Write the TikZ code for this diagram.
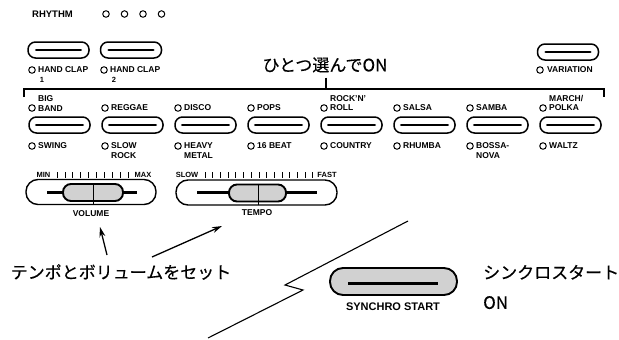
\documentclass[tikz,border=0pt]{standalone}
\usepackage{fontspec}
\setmainfont{Liberation Sans}
\newfontfamily\jp[FakeBold=0.4]{Noto Sans CJK JP}
\usetikzlibrary{arrows.meta}
\begin{document}
\begin{tikzpicture}[x=1pt,y=-1pt,
  lbl/.style={font=\bfseries\fontsize{8.5}{9.2}\selectfont, inner sep=0pt, align=left},
  small/.style={font=\bfseries\fontsize{7.5}{8}\selectfont, inner sep=0pt},
  jptext/.style={font=\jp\fontsize{17}{30}\selectfont, inner sep=0pt, align=left},
  led/.style={circle, draw, line width=1pt, minimum size=6.5pt, inner sep=0pt},
  btn/.style={draw, line width=1.5pt, rounded corners=7.5pt, minimum width=61pt, minimum height=16pt, inner sep=0pt},
  bar/.style={line width=2.8pt, line cap=round},
  slider/.style={draw, line width=1.4pt, rounded corners=12pt, minimum height=25pt, inner sep=0pt},
  knob/.style={draw, line width=1.9pt, fill=black!18, rounded corners=8pt, minimum height=17pt, inner sep=0pt},
  track/.style={line width=3pt},
  tick/.style={line width=0.8pt},
  arr/.style={line width=1.3pt, -{Stealth[length=10pt,width=6pt]}},
  thin/.style={line width=1.1pt}
]
\useasboundingbox (0,0) rectangle (619,340);

% RHYTHM row
\node[font=\bfseries\fontsize{9.5}{10}\selectfont, inner sep=0pt] (rhythm) at (52.5,14) {RHYTHM};
\foreach \k in {0,...,3} \node[led] (r\k) at (106+18.5*\k,14) {};

% Hand clap + variation
\node[btn] (hc1) at (58.5,50) {};
\draw[bar] ([xshift=9pt]hc1.west) -- ([xshift=-9pt]hc1.east);
\node[btn] (hc2) at (131,50) {};
\draw[bar] ([xshift=9pt]hc2.west) -- ([xshift=-9pt]hc2.east);
\node[btn] (var) at (568,52) {};
\draw[bar] ([xshift=9pt]var.west) -- ([xshift=-9pt]var.east);
\node[led] (lhc1) at (32,70) {};
\node[lbl, anchor=west] (thc1) at (38,70) {HAND CLAP};
\node[small] (n1) at (42,80) {1};
\node[led] (lhc2) at (104,70) {};
\node[lbl, anchor=west] (thc2) at (110,70) {HAND CLAP};
\node[small] (n2) at (114,80) {2};
\node[led] (lvar) at (540,70) {};
\node[lbl, anchor=west] (tvar) at (547,70) {VARIATION};

% Select one
\node[jptext] (sel) at (325,65) {ひとつ選んでON};
\coordinate (bl) at (24,97);
\coordinate (br) at (604,97);
\coordinate (brk) at (326,89);
\draw[thin] (bl) -- (24,89) -- (604,89) -- (br);
\draw[thin] ([yshift=-5pt]sel.south -| brk) -- (brk);

% Style buttons
\foreach \i/\ta/\tb in {0/{BIG\\BAND}/SWING, 1/REGGAE/{SLOW\\ROCK}, 2/DISCO/{HEAVY\\METAL}, 3/POPS/16 BEAT, 4/{ROCK'N'\\ROLL}/COUNTRY, 5/SALSA/RHUMBA, 6/SAMBA/{BOSSA-\\NOVA}, 7/{MARCH/\\POLKA}/WALTZ}{
  \pgfmathsetmacro\bx{59.5+73*\i}
  \node[btn] (s\i) at (\bx,125) {};
  \draw[bar] ([xshift=8pt]s\i.west) -- ([xshift=-8pt]s\i.east);
  \node[led] (tl\i) at (\bx-27.5,108) {};
  \node[lbl, anchor=south west] (tt\i) at (\bx-21.5,111.2) {\ta};
  \node[led] (bl\i) at (\bx-27.5,146) {};
  \node[lbl, anchor=north west] (bt\i) at (\bx-21.5,142.8) {\tb};
}

% Volume slider
\node[small] (min) at (43.5,175) {MIN};
\node[small] (max) at (143,175) {MAX};
\foreach \k in {0,...,9} \draw[tick] (57+7.9*\k,172) -- ++(0,6);
\node[slider, minimum width=130pt] (vol) at (91,192) {};
\draw[track] (47,192) -- (137,192);
\node[knob, minimum width=60pt] (vknob) at (93,192.5) {};
\draw[line width=1pt] (93,183) -- (93,205);
\node[lbl] (volt) at (91,214) {VOLUME};

% Tempo slider
\node[small] (slow) at (187,175) {SLOW};
\node[small] (fast) at (327,175) {FAST};
\foreach \k in {0,...,14} \draw[tick] (205+7.7*\k,172) -- ++(0,6);
\node[slider, minimum width=161pt] (tmp) at (256.5,192.5) {};
\draw[track] (197,192) -- (317,192);
\node[knob, minimum width=57pt] (tknob) at (257.5,193) {};
\draw[line width=1pt] (258,184) -- (258,205);
\node[lbl] (tmpt) at (257,213) {TEMPO};

% Set tempo and volume
\node[jptext] (setl) at (121,272) {テンポとボリュームをセット};
\coordinate (a1t) at (107,255);
\coordinate (a1h) at (100,227);
\coordinate (a2t) at (152,257);
\coordinate (a2h) at (222,226);
\draw[arr] (a1t) -- (a1h);
\draw[arr] (a2t) -- (a2h);

% Lightning break
\draw[thin] (408,221) -- (285,285) -- (303,290) -- (208,338);

% Synchro start
\node[draw, line width=1.9pt, fill=black!18, rounded corners=13pt, minimum width=127pt, minimum height=27pt, inner sep=0pt] (sync) at (393.5,281.5) {};
\draw[track] (348,283) -- (438,283);
\node[font=\bfseries\fontsize{11}{12}\selectfont, inner sep=0pt] (synct) at (393,307) {SYNCHRO START};
\node[jptext, anchor=west] (synl) at (483,287) {シンクロスタート\\ON};
\end{tikzpicture}
\end{document}
